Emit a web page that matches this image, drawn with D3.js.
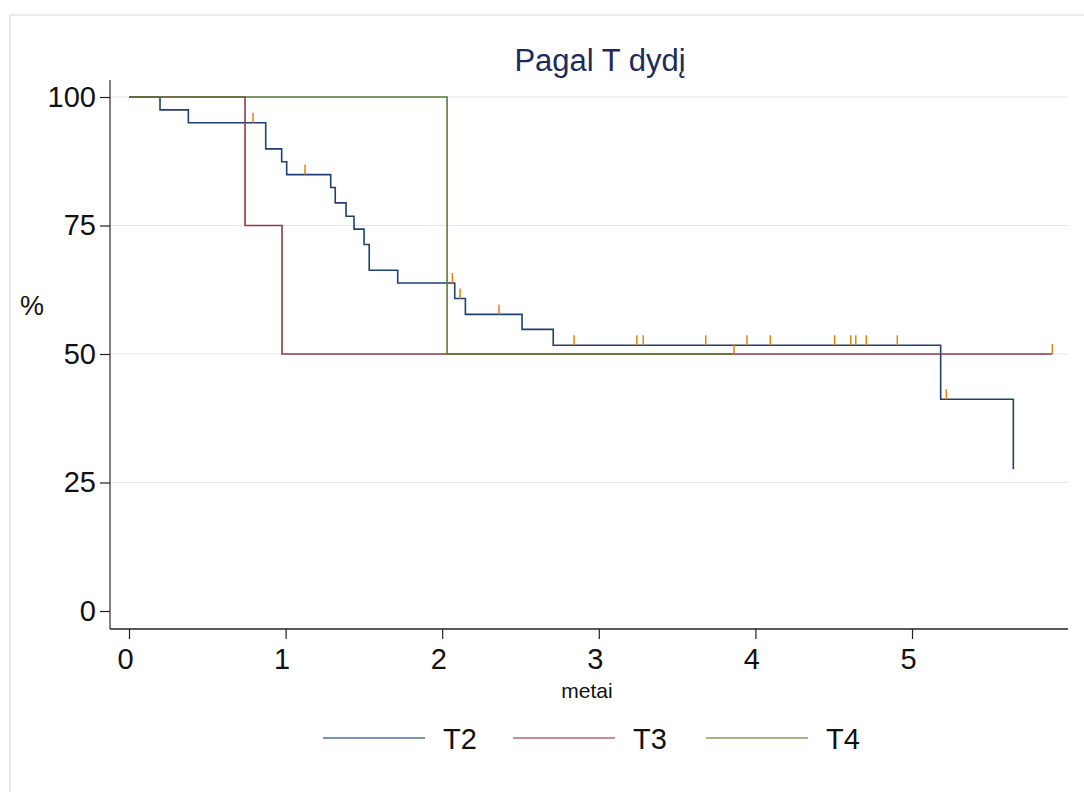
<!DOCTYPE html>
<html>
<head>
<meta charset="utf-8">
<script src="https://cdn.jsdelivr.net/npm/d3@7/dist/d3.min.js"></script>
<style>
  html, body { margin: 0; padding: 0; background: #fff; }
  svg { display: block; font-family: "Liberation Sans", Arial, sans-serif; }
</style>
</head>
<body>
<svg id="chart" width="1084" height="792"></svg>
<script>
// Kaplan-Meier survival by T stage (time in years, survival in %)
const groups = ["T2", "T3", "T4"];
const colors = ["#1f3f73", "#923a40", "#5a7a35"];
const censorColor = "#e8820c";

const t2Times = [0, 0.198, 0.379, 0.873, 0.975, 1.007, 1.288, 1.317, 1.386, 1.437, 1.501, 1.534, 1.716, 2.080, 2.148, 2.510, 2.709, 5.183, 5.647];
const t2Surv  = [100, 97.5, 95.0, 89.9, 87.4, 84.9, 82.4, 79.4, 76.8, 74.3, 71.3, 66.3, 63.8, 60.8, 57.7, 54.8, 51.7, 41.2, 27.6];
const t2Censored = [0.792, 1.124, 2.065, 2.114, 2.363, 2.842, 3.243, 3.284, 3.683, 3.946, 4.095, 4.506, 4.609, 4.641, 4.708, 4.906, 5.219];

const t3Times = [0, 0.741, 0.977, 5.896];
const t3Surv  = [100, 75, 50, 50];
const t3Censored = [5.896];

const t4Times = [0, 2.031, 3.863];
const t4Surv  = [100, 50, 50];
const t4Censored = [3.863];

const xTicks = [0, 1, 2, 3, 4, 5];
const yTicks = [0, 25, 50, 75, 100];
const gridTicks = [25, 50, 75, 100];

const series = [
  { name: groups[0], times: t2Times, surv: t2Surv, cens: t2Censored, color: colors[0] },
  { name: groups[1], times: t3Times, surv: t3Surv, cens: t3Censored, color: colors[1] },
  { name: groups[2], times: t4Times, surv: t4Surv, cens: t4Censored, color: colors[2] }
];

const svg = d3.select("#chart");
const x = d3.scaleLinear().domain([0, 5]).range([129, 912]);
const y = d3.scaleLinear().domain([0, 100]).range([611, 97]);
const plotLeft = 110, plotRight = 1068, plotBottom = 629, plotTop = 80;

// outer graph region frame
svg.append("rect").attr("x", 10).attr("y", 15).attr("width", 1100).attr("height", 800)
  .attr("fill", "#fff").attr("stroke", "#e8e9f3").attr("stroke-width", 2);

// title
svg.append("text").attr("x", 600).attr("y", 71).attr("text-anchor", "middle")
  .attr("font-size", 31).attr("fill", "#1c2b5c").text("Pagal T dydį");

// gridlines
svg.append("g").selectAll("line").data(gridTicks).join("line")
  .attr("x1", plotLeft + 1).attr("x2", plotRight)
  .attr("y1", d => y(d)).attr("y2", d => y(d))
  .attr("stroke", "#e2e6f0").attr("stroke-width", 1.2);

// y axis
const yAxis = d3.axisLeft(y).tickValues(yTicks).tickSize(10).tickPadding(4).tickFormat(d3.format("d"));
const gy = svg.append("g").attr("transform", `translate(${plotLeft},0)`).call(yAxis);
gy.select(".domain").attr("d", `M0,${plotTop}V${plotBottom}`).attr("stroke", "#555").attr("stroke-width", 1.5);
gy.selectAll(".tick line").attr("stroke", "#222").attr("stroke-width", 1.2);
gy.selectAll(".tick text").attr("font-size", 29).attr("fill", "#111")
  .attr("font-family", "'Liberation Sans', Arial, sans-serif");

// x axis
const xAxis = d3.axisBottom(x).tickValues(xTicks).tickSize(10).tickPadding(9).tickFormat(d3.format("d"));
const gx = svg.append("g").attr("transform", `translate(0,${plotBottom})`).call(xAxis);
gx.select(".domain").attr("d", `M${plotLeft},0H${plotRight}`).attr("stroke", "#222").attr("stroke-width", 1.5);
gx.selectAll(".tick line").attr("stroke", "#222").attr("stroke-width", 1.2);
gx.selectAll(".tick text").attr("font-size", 29).attr("fill", "#111")
  .attr("font-family", "'Liberation Sans', Arial, sans-serif").attr("dx", -4);

// axis titles
svg.append("text").attr("x", 587).attr("y", 698).attr("text-anchor", "middle")
  .attr("font-size", 21).attr("fill", "#111").text("metai");
svg.append("text").attr("x", 32).attr("y", 315).attr("text-anchor", "middle")
  .attr("font-size", 27).attr("fill", "#111").text("%");

// survival step at a given time
function survAt(s, t) {
  let v = s.surv[0];
  for (let i = 0; i < s.times.length; i++) { if (s.times[i] <= t) v = s.surv[i]; }
  return v;
}

// step curves
const stepLine = d3.line().x(d => x(d[0])).y(d => y(d[1])).curve(d3.curveStepAfter);
series.forEach(s => {
  svg.append("path").datum(s.times.map((t, i) => [t, s.surv[i]]))
    .attr("d", stepLine).attr("fill", "none")
    .attr("stroke", s.color).attr("stroke-width", 1.6);
});

// censoring ticks
series.forEach(s => {
  svg.append("g").selectAll("line").data(s.cens).join("line")
    .attr("x1", d => x(d)).attr("x2", d => x(d))
    .attr("y1", d => y(survAt(s, d))).attr("y2", d => y(survAt(s, d)) - 10)
    .attr("stroke", censorColor).attr("stroke-width", 1.5);
});

// legend
const legendX = [323, 513, 706];
const lg = svg.append("g");
series.forEach((s, i) => {
  lg.append("line").attr("x1", legendX[i]).attr("x2", legendX[i] + 102)
    .attr("y1", 738).attr("y2", 738).attr("stroke", s.color).attr("stroke-width", 1.4).attr("opacity", 0.75);
  lg.append("text").attr("x", legendX[i] + 120).attr("y", 749)
    .attr("font-size", 29).attr("fill", "#111").text(s.name);
});
</script>
</body>
</html>
